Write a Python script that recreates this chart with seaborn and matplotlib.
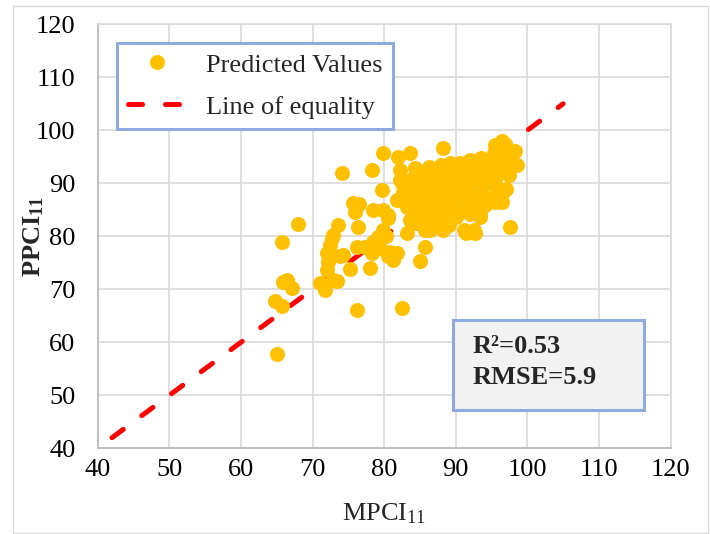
import matplotlib
matplotlib.use("Agg")
import matplotlib.pyplot as plt
from matplotlib.patches import Rectangle
from matplotlib.lines import Line2D
import pandas as pd
import seaborn as sns

# Measured and predicted PCI values
mpci = [
    65.0, 64.8, 65.8, 65.8, 65.9, 66.4, 67.1, 68.0,
    71.0, 71.7, 72.9, 73.4, 72.0, 72.2, 72.0, 72.4, 72.7, 72.9, 73.8, 74.3, 73.6, 74.1, 75.3, 78.0, 76.2, 82.5,
    75.7, 76.5, 75.9, 76.4, 76.2, 77.3, 78.5, 79.2, 78.3, 79.4, 80.8, 81.8, 80.6, 81.3, 78.3, 79.8, 79.7, 78.5,
    79.9, 80.6, 80.6, 79.9, 80.2,
    82.0, 83.6, 82.2, 84.3, 86.2, 87.3, 82.2, 83.9, 85.5, 86.9, 82.5, 82.7, 84.3, 85.9, 87.3, 81.8, 83.2, 84.6,
    86.4, 83.2, 86.9, 83.6, 85.0, 83.2, 86.4, 86.4, 85.7, 84.5, 88.0, 89.0, 85.7, 85.0, 88.2,
    88.2, 95.5, 96.9, 96.4, 98.3, 98.6, 97.6, 95.3, 92.0, 93.6, 95.7, 96.9, 89.2, 90.6, 87.1, 88.7, 90.4, 92.5,
    94.3, 96.2, 86.9, 88.5, 90.6, 92.2, 93.9, 95.5, 96.6, 95.3, 96.4, 92.5, 90.8, 88.7, 86.9, 90.6, 92.0, 93.4,
    90.1, 94.1, 94.8, 95.5, 97.6, 91.1, 92.5, 91.5, 92.7, 93.4, 97.0, 89.5, 91.5, 93.0, 89.8, 91.8, 93.5, 94.8,
    91.0, 93.0, 94.5, 96.0, 97.0,
    84.0, 85.2, 85.0, 86.0, 87.8, 88.0, 89.3, 91.8, 93.0, 94.0, 95.8, 97.5, 85.6, 87.5, 88.5, 84.8,
]
ppci = [
    57.8, 67.7, 66.8, 79.0, 71.4, 71.8, 70.3, 82.4,
    71.1, 69.9, 71.8, 71.6, 73.6, 75.2, 76.8, 78.4, 79.6, 80.2, 76.2, 76.5, 82.1, 91.9, 73.8, 74.0, 66.1, 66.4,
    86.2, 86.1, 84.5, 81.7, 78.0, 78.0, 79.0, 79.9, 76.8, 77.7, 77.1, 76.8, 76.2, 75.6, 92.5, 95.7, 88.7, 85.0,
    85.0, 84.0, 83.4, 81.2, 80.0,
    95.0, 95.7, 92.5, 92.8, 93.1, 92.5, 90.6, 90.9, 90.6, 90.9, 90.0, 88.4, 89.0, 88.4, 88.7, 86.8, 86.5, 86.2,
    86.5, 85.6, 84.6, 83.1, 82.5, 80.6, 83.4, 81.2, 81.2, 82.5, 82.5, 82.1, 78.0, 75.3, 81.2,
    96.6, 97.2, 97.5, 98.0, 96.0, 93.4, 95.3, 95.7, 94.4, 94.7, 93.8, 93.1, 93.8, 93.8, 91.2, 91.9, 92.2, 92.5,
    92.5, 91.9, 89.4, 89.7, 90.0, 90.3, 89.7, 90.0, 88.4, 87.5, 86.5, 87.2, 87.8, 87.5, 87.8, 85.0, 84.3, 84.0,
    83.7, 85.9, 86.8, 86.5, 81.8, 81.2, 81.2, 80.6, 80.6, 83.7, 89.0, 91.0, 91.5, 91.0, 88.8, 88.8, 88.0, 91.2,
    93.0, 93.5, 94.0, 95.0, 96.5,
    87.8, 87.2, 91.8, 91.8, 90.0, 93.5, 86.3, 86.0, 86.0, 87.5, 89.2, 91.5, 84.6, 85.5, 84.8, 84.0,
]

# 1:1 reference line end points
equality = [42, 105]

axis_ticks = [40, 50, 60, 70, 80, 90, 100, 110, 120]
legend_labels = ["Predicted Values", "Line of equality"]
stats_lines = ["R\u00b2=0.53", "RMSE=5.9"]

POINT_COLOR = "#ffc000"
LINE_COLOR = "#ff0000"
BOX_EDGE = "#8faadc"
DASH = (0, (2.8, 4.6))
FS = 19

sns.set_style("whitegrid", {"grid.color": "#d9d9d9", "axes.edgecolor": "#bfbfbf"})
plt.rcParams["font.family"] = ["Liberation Serif", "DejaVu Serif"]
plt.rcParams["mathtext.fontset"] = "custom"
plt.rcParams["mathtext.rm"] = "Liberation Serif"
plt.rcParams["mathtext.bf"] = "Liberation Serif:bold"
plt.rcParams["mathtext.it"] = "Liberation Serif:italic"

fig = plt.figure(figsize=(7.1, 5.34), dpi=100)
ax = fig.add_axes([0.1376, 0.1605, 0.8068, 0.794])

points = pd.DataFrame({"MPCI": mpci, "PPCI": ppci})
line = pd.DataFrame({"x": equality, "y": equality})

sns.lineplot(data=line, x="x", y="y", ax=ax, color=LINE_COLOR, linewidth=3.6,
             linestyle=DASH, dash_capstyle="round", zorder=2)
sns.scatterplot(data=points, x="MPCI", y="PPCI", ax=ax, color=POINT_COLOR,
                s=117, linewidth=0, zorder=3)

ax.set_xlim(axis_ticks[0], axis_ticks[-1])
ax.set_ylim(axis_ticks[0], axis_ticks[-1])
ax.set_xticks(axis_ticks)
ax.set_yticks(axis_ticks)
ax.grid(True, color="#d9d9d9", linewidth=1.2)
ax.tick_params(axis="both", length=0, labelsize=FS, colors="black")
ax.tick_params(axis="y", pad=16)
ax.tick_params(axis="x", pad=8)
for side in ("left", "bottom"):
    ax.spines[side].set_color("#bfbfbf")
    ax.spines[side].set_linewidth(1.4)
for side in ("top", "right"):
    ax.spines[side].set_color("#d9d9d9")
    ax.spines[side].set_linewidth(1.2)

ax.set_xlabel("MPCI$_{\\mathrm{11}}$", fontsize=FS)
ax.set_ylabel("PPCI$_{\\mathbf{11}}$", fontsize=FS, fontweight="bold")
ax.xaxis.set_label_coords(0.5, -0.125)
ax.yaxis.set_label_coords(-0.09, 0.5)

handles = [
    Line2D([], [], marker="o", linestyle="none", markersize=10.8,
           markerfacecolor=POINT_COLOR, markeredgewidth=0),
    Line2D([], [], color=LINE_COLOR, linewidth=3.6, linestyle=DASH,
           dash_capstyle="round"),
]
leg = ax.legend(handles=handles, labels=legend_labels, loc="upper left",
                bbox_to_anchor=(0.034, 0.957), borderaxespad=0, frameon=True,
                fancybox=False, edgecolor=BOX_EDGE, framealpha=1, fontsize=FS,
                handlelength=2.2, handletextpad=0.75, labelspacing=0.7,
                borderpad=0.4)
leg.get_frame().set_linewidth(2.2)
leg.set_zorder(6)

# Goodness-of-fit box
ax.add_patch(Rectangle((0.620, 0.090), 0.334, 0.213, transform=ax.transAxes,
                       facecolor="#f2f2f2", edgecolor=BOX_EDGE, linewidth=2.2,
                       zorder=5))
ax.text(0.655, 0.239, stats_lines[0], transform=ax.transAxes, fontsize=FS,
        fontweight="bold", va="center", ha="left", zorder=6)
ax.text(0.655, 0.166, stats_lines[1], transform=ax.transAxes, fontsize=FS,
        fontweight="bold", va="center", ha="left", zorder=6)

# Outer chart frame
fig.add_artist(Rectangle((0.018, 0.002), 0.979, 0.987, transform=fig.transFigure,
                         fill=False, edgecolor="#d9d9d9", linewidth=1.0))

fig.savefig("out.png", dpi=100)
